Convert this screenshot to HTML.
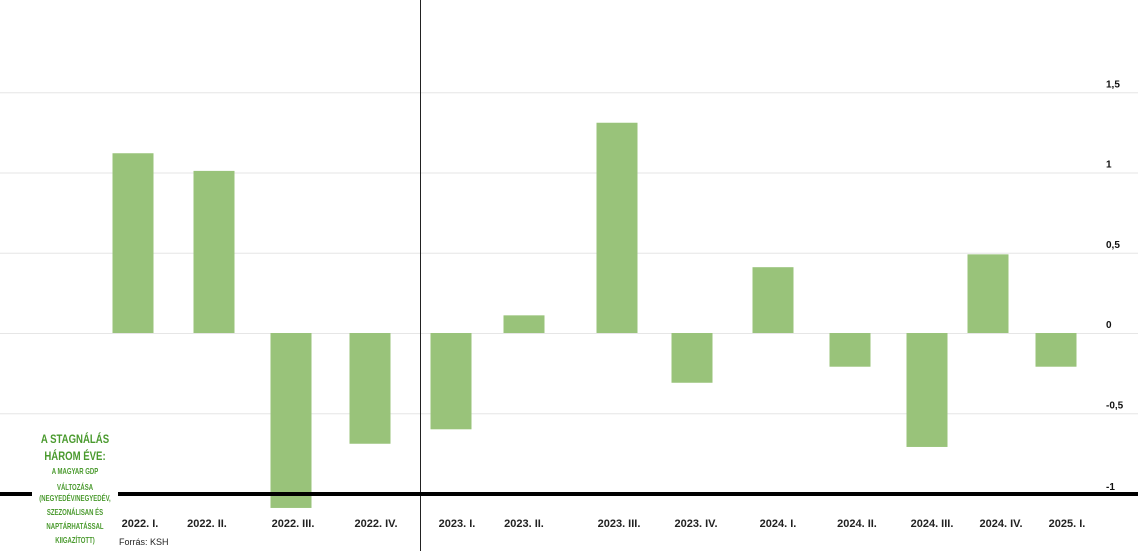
<!DOCTYPE html>
<html><head><meta charset="utf-8">
<style>
body{margin:0;background:#fff;}
svg{display:block;font-family:"Liberation Sans",sans-serif;}
</style></head>
<body>
<svg id="chart" width="1138" height="551" viewBox="0 0 1138 551">
<g id="grid"></g>
<g id="bars"></g>
<g id="labels"></g>
<line x1="420.5" y1="0" x2="420.5" y2="551" stroke="#222" stroke-width="1"/>
<line x1="0" y1="494" x2="32" y2="494" stroke="#000" stroke-width="4"/>
<line x1="118" y1="494" x2="1138" y2="494" stroke="#000" stroke-width="4"/>
<g fill="#4a9a2e" text-anchor="middle" font-weight="bold" font-family="'Liberation Sans Narrow','Liberation Sans',sans-serif">
<text x="75" y="443" font-size="12" transform="translate(75 0) scale(0.8 1) translate(-75 0)">A STAGNÁLÁS</text>
<text x="75" y="460" font-size="12" transform="translate(75 0) scale(0.8 1) translate(-75 0)">HÁROM ÉVE:</text>
<text x="75" y="474" font-size="8" transform="translate(75 0) scale(0.75 1) translate(-75 0)">A MAGYAR GDP</text>
<text x="75" y="490" font-size="8" transform="translate(75 0) scale(0.75 1) translate(-75 0)">VÁLTOZÁSA</text>
<text x="75" y="501" font-size="8" transform="translate(75 0) scale(0.75 1) translate(-75 0)">(NEGYEDÉV/NEGYEDÉV,</text>
<text x="75" y="515" font-size="8" transform="translate(75 0) scale(0.75 1) translate(-75 0)">SZEZONÁLISAN ÉS</text>
<text x="75" y="529" font-size="8" transform="translate(75 0) scale(0.75 1) translate(-75 0)">NAPTÁRHATÁSSAL</text>
<text x="75" y="543" font-size="8" transform="translate(75 0) scale(0.75 1) translate(-75 0)">KIIGAZÍTOTT)</text>
</g>
<text x="119" y="545" font-size="9" fill="#222">Forrás: KSH</text>
</svg>
<script>
const categories=["2022. I.","2022. II.","2022. III.","2022. IV.","2023. I.","2023. II.","2023. III.","2023. IV.","2024. I.","2024. II.","2024. III.","2024. IV.","2025. I."];
const values=[1.12,1.01,-1.09,-0.69,-0.6,0.11,1.31,-0.31,0.41,-0.21,-0.71,0.49,-0.21];
const tickValues=[1.5,1,0.5,0,-0.5];
const tickLabels=["1,5","1","0,5","0","-0,5"];
const barCenters=[133,214,291,370,451,524,617,692,773,850,927,988,1056];
const labelCenters=[140,207,293,376,457,524,619,696,778,857,932,1001,1067];
const ns="http://www.w3.org/2000/svg";
function y(v){return 333-v*160.5;}
const grid=document.getElementById('grid');
tickValues.forEach((t,i)=>{
  const l=document.createElementNS(ns,'line');
  
  
  l.setAttribute('x1',0);l.setAttribute('x2',1138);
  l.setAttribute('y1',y(t)+0.5);l.setAttribute('y2',y(t)+0.5);
  l.setAttribute('stroke','#e6e6e6');
  grid.appendChild(l);
  const tx=document.createElementNS(ns,'text');
  
  
  tx.setAttribute('x',1106);tx.setAttribute('y',y(t)-5);
  tx.setAttribute('font-size','10');tx.setAttribute('font-weight','bold');tx.setAttribute('fill','#111');
  tx.textContent=tickLabels[i];
  grid.appendChild(tx);
});
const t2=document.createElementNS(ns,'text');


t2.setAttribute('x',1106);t2.setAttribute('y',490);
t2.setAttribute('font-size','10');t2.setAttribute('font-weight','bold');t2.setAttribute('fill','#111');
t2.textContent="-1";
grid.appendChild(t2);
const bars=document.getElementById('bars'),labels=document.getElementById('labels');
categories.forEach((c,i)=>{
  const v=values[i];
  const r=document.createElementNS(ns,'rect');
  
  
  r.setAttribute('x',barCenters[i]-20.5);r.setAttribute('width',41);
  r.setAttribute('y',Math.min(y(v),y(0)));r.setAttribute('height',Math.abs(y(v)-y(0)));
  r.setAttribute('fill','#99c37a');
  bars.appendChild(r);
  const t=document.createElementNS(ns,'text');
  
  
  t.setAttribute('x',labelCenters[i]);t.setAttribute('y',527);
  t.setAttribute('text-anchor','middle');t.setAttribute('font-size','11');t.setAttribute('font-weight','bold');t.setAttribute('fill','#222');
  t.textContent=c;
  labels.appendChild(t);
});
</script>
</body></html>
